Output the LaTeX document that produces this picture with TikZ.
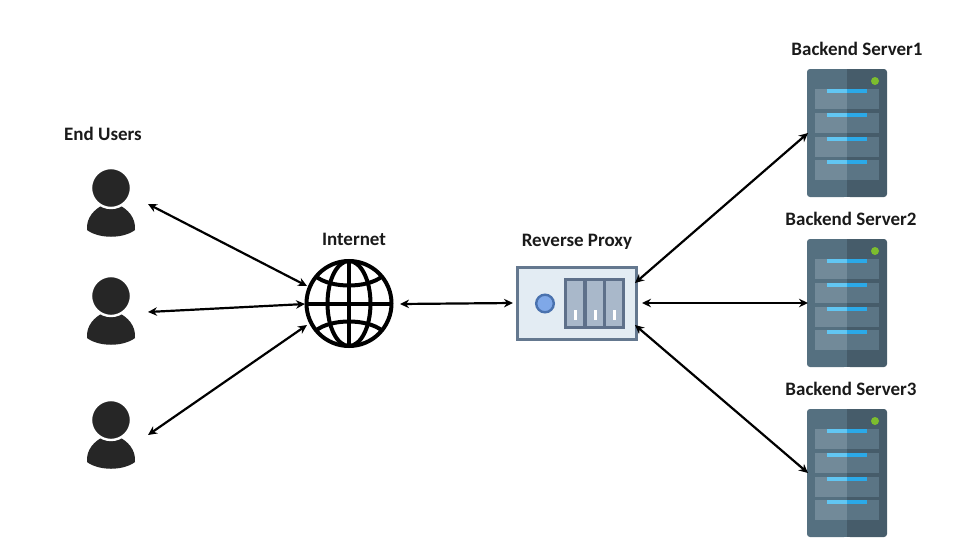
\documentclass[tikz,border=0pt]{standalone}
\usepackage{fontspec}
\setmainfont{Carlito}
\usetikzlibrary{arrows.meta}
\definecolor{srvL}{HTML}{557080}
\definecolor{srvR}{HTML}{465C6A}
\definecolor{slotL}{HTML}{728A99}
\definecolor{slotR}{HTML}{5B7585}
\definecolor{barL}{HTML}{62C6F2}
\definecolor{barR}{HTML}{2BA9E8}
\definecolor{ledG}{HTML}{7DBE2E}
\definecolor{pxEdge}{HTML}{64788F}
\definecolor{pxFill}{HTML}{E3ECF3}
\definecolor{pxSlot}{HTML}{A9B8CA}
\definecolor{pxDark}{HTML}{5E708A}
\definecolor{pxDot}{HTML}{7FA8E8}
\definecolor{pxDotE}{HTML}{4A72AE}
\definecolor{userK}{HTML}{262626}
\definecolor{labelK}{HTML}{1A1A1A}
\tikzset{
  x=1pt,y=-1pt,
  caption/.style={font=\fontsize{19}{22}\selectfont\bfseries,text=labelK,inner sep=0pt,anchor=center},
  anchorbox/.style={inner sep=0pt,minimum width=#1,minimum height=#1},
  link/.style={draw=black,line width=2.2pt,{Stealth[length=9pt,width=8.5pt]}-{Stealth[length=9pt,width=8.5pt]}},
  usericon/.pic={
    \fill[userK] (-24,27) .. controls (-25,14) and (-16,6) .. (-8,2)
       -- (8,2)
       .. controls (16,6) and (25,14) .. (24,27)
       .. controls (12,36) and (-12,36) .. (-24,27) -- cycle;
    \draw[white,line width=2.4pt,fill=userK] (0,-15) circle[radius=20];
  },
  servericon/.pic={
    \fill[srvL,rounded corners=3pt] (-40,-64) rectangle (0,64);
    \fill[srvL] (-10,-64) rectangle (0,64);
    \fill[srvR,rounded corners=3pt] (0,-64) rectangle (40,64);
    \fill[srvR] (0,-64) rectangle (10,64);
    \foreach \yy in {-44,-20,4,27}{
      \fill[slotL] (-32,\yy) rectangle (0,\yy+20);
      \fill[slotR] (0,\yy) rectangle (32,\yy+20);
      \fill[barL] (-20,\yy) rectangle (0,\yy+4);
      \fill[barR] (0,\yy) rectangle (20,\yy+4);
    }
    \fill[ledG] (28,-52) circle[radius=4];
  },
  proxyicon/.pic={
    \draw[pxEdge,fill=pxFill,line width=3pt] (-59.5,-36) rectangle (59.5,36);
    \draw[pxDotE,fill=pxDot,line width=2.4pt] (-32,0) circle[radius=8.8];
    \fill[pxDark] (-13,-25.5) rectangle (48,25.5);
    \foreach \xx in {-10,10,29}{
      \fill[pxSlot] (\xx,-22.5) rectangle (\xx+16,22.5);
      \fill[white] (\xx+6.5,6.5) rectangle (\xx+9.5,16.5);
    }
  },
  globeicon/.pic={
    \begin{scope}[draw=black,line width=4pt]
      \draw (0,0) circle[radius=42.5];
      \draw (0,-42.5) -- (0,42.5);
      \draw (-42.5,0) -- (42.5,0);
      \draw (0,0) circle[x radius=21.5,y radius=42.5];
      \draw (-33,-27) .. controls (-18,-15) and (18,-15) .. (33,-27);
      \draw (-33,27) .. controls (-18,15) and (18,15) .. (33,27);
    \end{scope}
  },
}
\begin{document}
\begin{tikzpicture}
\useasboundingbox (0,0) rectangle (954,547);
% icon anchors
\node[anchorbox=50pt] (user1) at (111,203) {};
\node[anchorbox=50pt] (user2) at (111,311) {};
\node[anchorbox=50pt] (user3) at (111,435) {};
\node[anchorbox=80pt] (globe) at (349,303.5) {};
\node[anchorbox=70pt] (proxy) at (577,303.5) {};
\node[anchorbox=80pt] (srv1) at (847,133) {};
\node[anchorbox=80pt] (srv2) at (847,303) {};
\node[anchorbox=80pt] (srv3) at (847,473) {};
% icons
\pic at (user1.center) {usericon};
\pic at (user2.center) {usericon};
\pic at (user3.center) {usericon};
\pic at (globe.center) {globeicon};
\pic at (proxy.center) {proxyicon};
\pic at (srv1.center) {servericon};
\pic at (srv2.center) {servericon};
\pic at (srv3.center) {servericon};
% labels
\node[caption] (lusers) at (103,134) {End Users};
\node[caption] (lnet) at (354,239) {Internet};
\node[caption] (lproxy) at (577,242) {Reverse Proxy};
\node[caption] (ls1) at (857,49) {Backend Server1};
\node[caption] (ls2) at (851,219) {Backend Server2};
\node[caption] (ls3) at (851,389) {Backend Server3};
% connectors
\draw[link] ([shift={(37,1)}]user1.center) -- ([shift={(-42,-17.5)}]globe.center);
\draw[link] ([shift={(37,1)}]user2.center) -- ([shift={(-44,0.5)}]globe.center);
\draw[link] ([shift={(37,0)}]user3.center) -- ([shift={(-42,21.5)}]globe.center);
\draw[link] ([shift={(51,0.5)}]globe.center) -- ([shift={(-64,-0.5)}]proxy.center);
\draw[link] ([shift={(58,-20.5)}]proxy.center) -- ([shift={(-39,0)}]srv1.center);
\draw[link] ([shift={(65,-0.5)}]proxy.center) -- ([shift={(-39,0)}]srv2.center);
\draw[link] ([shift={(58,21.5)}]proxy.center) -- ([shift={(-39,0)}]srv3.center);
\end{tikzpicture}
\end{document}
